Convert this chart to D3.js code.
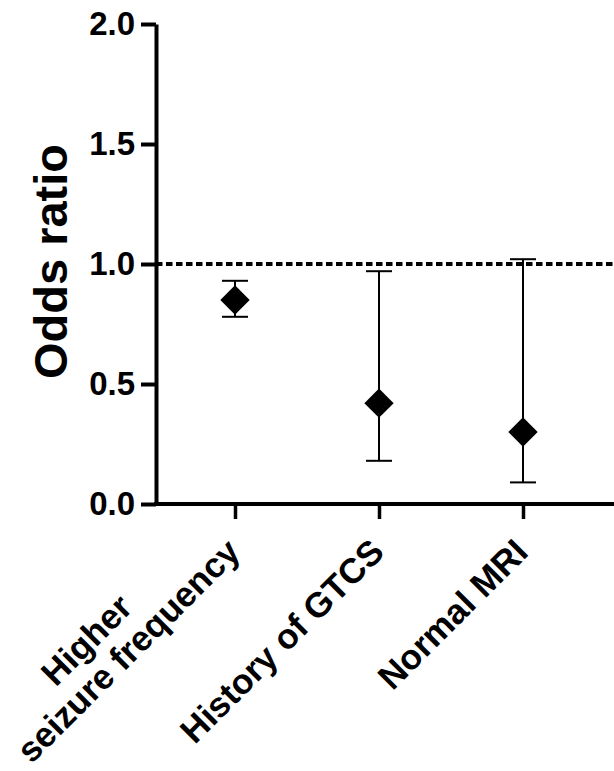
<!DOCTYPE html>
<html>
<head>
<meta charset="utf-8">
<script src="https://cdn.jsdelivr.net/npm/d3@7"></script>
<style>
  html, body { margin: 0; padding: 0; background: #fff; }
  svg { display: block; }
</style>
</head>
<body>
<script>
// data
const categories = ["Higher\nseizure frequency", "History of GTCS", "Normal MRI"]
const oddsRatio = [0.85, 0.42, 0.30]
const ciLow = [0.78, 0.18, 0.09]
const ciHigh = [0.93, 0.97, 1.02]
const yTicks = [0.0, 0.5, 1.0, 1.5, 2.0]
const refLine = 1.0

const width = 614, height = 771
const font = "'Liberation Sans', Arial, Helvetica, sans-serif"
const axisX = 156, axisTop = 24, axisBottom = 504

const svg = d3.select("body").append("svg")
  .attr("width", width)
  .attr("height", height)
  .attr("xmlns", "http://www.w3.org/2000/svg")

const y = d3.scaleLinear().domain([0, 2]).range([axisBottom, axisTop])
const x = d3.scaleLinear().domain([0, categories.length - 1]).range([235, 523])

// y axis
const yAxis = svg.append("g")
  .attr("transform", `translate(${axisX},0)`)
  .call(d3.axisLeft(y).tickValues(yTicks).tickFormat(d3.format(".1f"))
    .tickSize(15).tickSizeOuter(0).tickPadding(6))
yAxis.select(".domain").attr("stroke", "#000").attr("stroke-width", 4)
yAxis.selectAll(".tick line").attr("stroke", "#000").attr("stroke-width", 4)
yAxis.selectAll(".tick text")
  .attr("font-family", font)
  .attr("font-weight", "bold")
  .attr("font-size", 33)
  .attr("fill", "#000")

// x axis
const xAxis = svg.append("g")
  .attr("transform", `translate(0,${axisBottom})`)
  .call(d3.axisBottom(x).tickValues(d3.range(categories.length)).tickFormat("")
    .tickSize(15).tickSizeOuter(0))
xAxis.select(".domain").remove()
xAxis.selectAll(".tick line").attr("stroke", "#000").attr("stroke-width", 3.5)
xAxis.append("line")
  .attr("x1", axisX - 2)
  .attr("x2", width)
  .attr("stroke", "#000")
  .attr("stroke-width", 4)

// reference line at OR = 1
svg.append("line")
  .attr("x1", axisX)
  .attr("x2", width)
  .attr("y1", y(refLine))
  .attr("y2", y(refLine))
  .attr("stroke", "#000")
  .attr("stroke-width", 4)
  .attr("stroke-dasharray", "6.5,3.5")

// error bars
const bars = svg.append("g").selectAll("g")
  .data(oddsRatio)
  .join("g")

bars.append("line")
  .attr("x1", (d, i) => x(i))
  .attr("x2", (d, i) => x(i))
  .attr("y1", (d, i) => y(ciLow[i]))
  .attr("y2", (d, i) => y(ciHigh[i]))
  .attr("stroke", "#000")
  .attr("stroke-width", 2)

const capW = 13
bars.selectAll(".cap")
  .data((d, i) => [[i, ciLow[i]], [i, ciHigh[i]]])
  .join("line")
  .attr("class", "cap")
  .attr("x1", d => x(d[0]) - capW)
  .attr("x2", d => x(d[0]) + capW)
  .attr("y1", d => y(d[1]))
  .attr("y2", d => y(d[1]))
  .attr("stroke", "#000")
  .attr("stroke-width", 2)

// diamonds
bars.append("path")
  .attr("d", d3.symbol(d3.symbolSquare, 430))
  .attr("transform", (d, i) => `translate(${x(i)},${y(d)}) rotate(45)`)
  .attr("fill", "#000")

// x labels, rotated
const lineH = 37
categories.forEach((c, i) => {
  const lines = c.split("\n")
  const g = svg.append("g")
    .attr("transform", `translate(${x(i) + 7},${axisBottom + 50}) rotate(-45)`)
  const texts = lines.map((l, j) => g.append("text")
    .attr("y", -(lines.length - 1 - j) * lineH)
    .attr("font-family", font)
    .attr("font-weight", "bold")
    .attr("font-size", 35)
    .attr("fill", "#000")
    .text(l))
  const widths = texts.map(t => t.node().getComputedTextLength())
  const maxW = d3.max(widths)
  // shorter lines sit a bit left of centre in the original
  texts.forEach((t, j) => t.attr("text-anchor", "middle")
    .attr("x", -maxW / 2 - (widths[j] < maxW ? 22 : 0)))
})

// y title
svg.append("text")
  .attr("transform", `translate(67,${(143 + 380) / 2}) rotate(-90)`)
  .attr("text-anchor", "middle")
  .attr("font-family", font)
  .attr("font-weight", "bold")
  .attr("font-size", 47)
  .attr("fill", "#000")
  .text("Odds ratio")
</script>
</body>
</html>
